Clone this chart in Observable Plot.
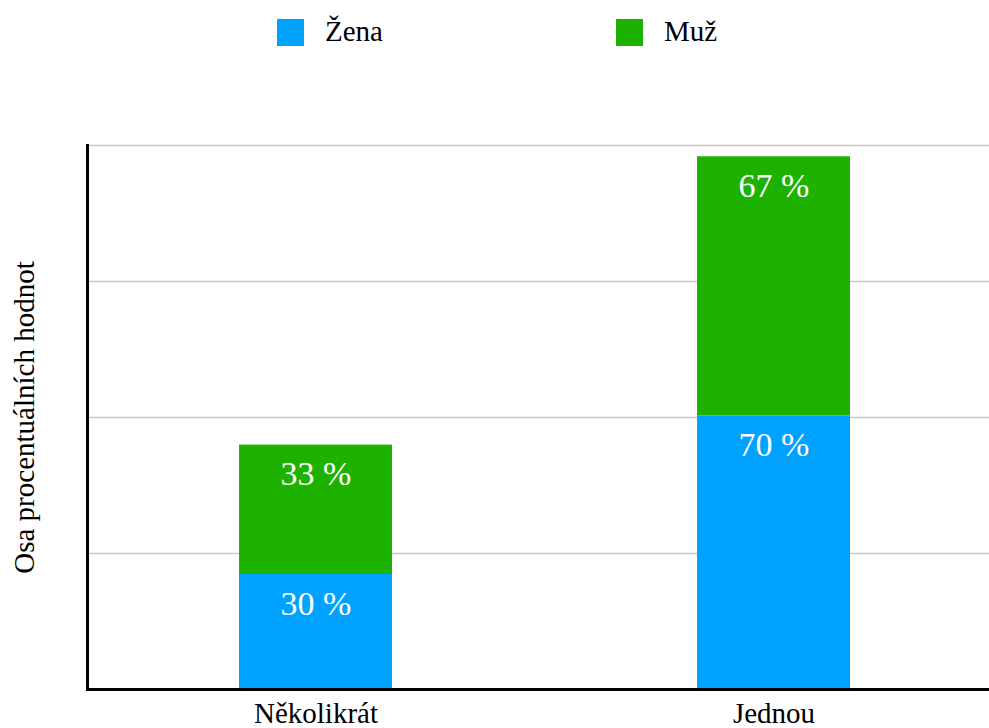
<!DOCTYPE html>
<html><head><meta charset="utf-8">
<script src="https://cdn.jsdelivr.net/npm/d3@7"></script>
<script src="https://cdn.jsdelivr.net/npm/@observablehq/plot@0.6"></script>
<style>
html body{margin:0;background:#fff;color:#000;}
html body, html body #legend .lab, html body #chart svg, html body #chart svg text, html body #chart svg g {
  font-family:"Liberation Serif",Tinos,"Times New Roman",Times,serif !important;
}
#legend{position:relative;height:100px;}
.sw{position:absolute;top:19px;width:27px;height:27px;}
.lab{position:absolute;top:17px;font-size:29px;line-height:29px;color:#000;white-space:nowrap;}
</style></head><body>
<div id="legend"></div>
<div id="chart"></div>
<script>
const categories = ["Několikrát", "Jednou"];
const series = ["Žena", "Muž"];
const zenaValues = [29.6, 70.4];
const muzValues = [33.3, 66.7];
const colors = ["#00a2ff", "#1db100"];
const yTicks = [0, 35, 70, 105, 140];
const yTitle = "Osa procentuálních hodnot";

const data = [];
categories.forEach((c, i) => {
  data.push({category: c, series: "Žena", value: zenaValues[i]});
  data.push({category: c, series: "Muž", value: muzValues[i]});
});

const font = '"Liberation Serif", Tinos, "Times New Roman", Times, serif';

// legend
const legend = document.getElementById("legend");
const legendX = [277, 616];
series.forEach((s, i) => {
  const sw = document.createElement("div");
  sw.className = "sw"; sw.style.left = legendX[i] + "px"; sw.style.background = colors[i];
  legend.appendChild(sw);
  const lb = document.createElement("div");
  lb.className = "lab"; lb.style.left = (legendX[i] + 48) + "px"; lb.style.fontFamily = font; lb.textContent = s;
  legend.appendChild(lb);
});

const chart = Plot.plot({
  width: 989, height: 628,
  marginTop: 45, marginBottom: 39, marginLeft: 87, marginRight: 0,
  style: {fontFamily: font, background: "#fff", color: "#000", overflow: "visible"},
  x: {domain: categories, range: [87, 1002], paddingInner: 0.666, paddingOuter: 0.33, label: null},
  y: {domain: [0, 140], axis: null, label: null},
  color: {domain: series, range: colors},
  marks: [
    Plot.ruleY(yTicks, {stroke: "#c8c8c8", strokeWidth: 1.5}),
    Plot.barY(data, {x: "category", y: "value", fill: "series"}),
    Plot.text(data, Plot.stackY2({
      x: "category", y: "value", z: "series",
      text: d => `${Math.round(d.value)} %`,
      fill: "#fff", fontSize: 34, fontFamily: font, lineAnchor: "top", dy: 16
    })),
    Plot.ruleY([0], {stroke: "#000", strokeWidth: 3}),
    Plot.frame({anchor: "left", stroke: "#000", strokeWidth: 3}),
    Plot.axisX({tickSize: 0, tickPadding: 13, fontSize: 29, fontFamily: font, label: null}),
    Plot.text([yTitle], {frameAnchor: "left", textAnchor: "middle", rotate: -90, dx: -63, fontSize: 29, fontFamily: font, fill: "#000"})
  ]
});
chart.querySelectorAll("text").forEach(t => t.style.setProperty("font-family", font, "important"));
document.getElementById("chart").appendChild(chart);
</script>
</body></html>
